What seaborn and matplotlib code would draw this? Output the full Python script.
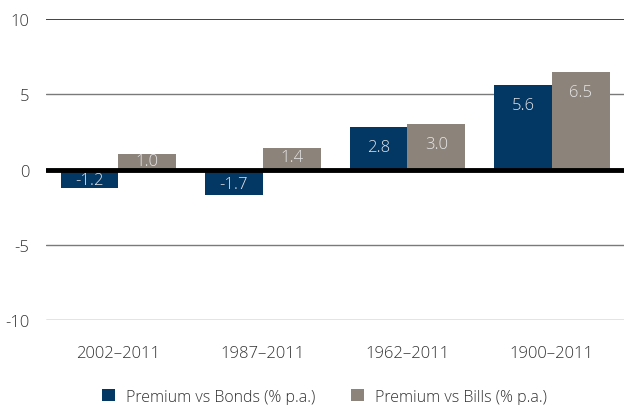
import pandas as pd
import seaborn as sns
import matplotlib.pyplot as plt
from matplotlib.patches import Patch

periods = ["2002–2011", "1987–2011", "1962–2011", "1900–2011"]
vs_bonds = [-1.2, -1.7, 2.8, 5.6]
vs_bills = [1.0, 1.4, 3.0, 6.5]
series = ["Premium vs Bonds (% p.a.)", "Premium vs Bills (% p.a.)"]
colors = ["#033764", "#8c837b"]

df = pd.DataFrame({
    "period": periods * 2,
    "value": vs_bonds + vs_bills,
    "series": [series[0]] * 4 + [series[1]] * 4,
})

sns.set_style("white")
plt.rcParams["font.family"] = ["Open Sans", "DejaVu Sans"]
plt.rcParams["font.weight"] = "light"

fig = plt.figure(figsize=(6.24, 4.06), dpi=100)
ax = fig.add_axes([0.074, 0.209, 0.926, 0.742])

sns.barplot(data=df, x="period", y="value", hue="series", palette=colors,
            width=0.8, saturation=1, linewidth=0, edgecolor="none",
            ax=ax, legend=False, zorder=2)

ax.set_ylim(-10, 10)
ax.set_yticks([-10, -5, 0, 5, 10])
ax.set_yticklabels(["-10", "-5", "0", "5", "10"])
ax.set_xlabel("")
ax.set_ylabel("")
for s in ax.spines.values():
    s.set_visible(False)

for y in [-10, -5, 5]:
    ax.axhline(y, color="#7a7a7a", lw=1, zorder=1)
ax.axhline(10, color="#222222", lw=1.2, zorder=1)
ax.axhline(0, color="black", lw=3.5, zorder=3)

ax.tick_params(axis="y", length=0, pad=12, labelsize=12, labelcolor="#333333")
ax.tick_params(axis="x", length=0, pad=18, labelsize=12, labelcolor="#333333")

# value labels inside bars
for container in ax.containers:
    for bar in container:
        v = bar.get_height()
        x = bar.get_x() + bar.get_width() / 2
        if abs(v) > 2:
            y = v - 1.33 if v > 0 else v + 1.33
        else:
            y = v * 0.58
        ax.text(x, y, f"{v:.1f}", ha="center", va="center", fontsize=12,
                color="#e6e6e6", zorder=4)

handles = [Patch(facecolor=c, edgecolor="none") for c in colors]
fig.legend(handles, series, loc="lower center", bbox_to_anchor=(0.52, -0.035),
           ncol=2, frameon=False, fontsize=11.5, handlelength=0.8,
           handleheight=0.8, columnspacing=2.2, handletextpad=0.7,
           labelcolor="#333333")

fig.savefig("out.png", dpi=100)
